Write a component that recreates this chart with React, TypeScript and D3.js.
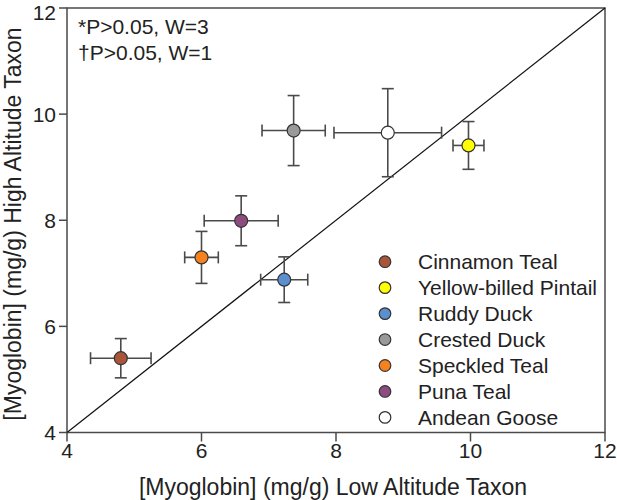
import React from 'react';
import * as d3 from 'd3';

// species, in legend order
const species = ['Cinnamon Teal', 'Yellow-billed Pintail', 'Ruddy Duck', 'Crested Duck', 'Speckled Teal', 'Puna Teal', 'Andean Goose'];
const colors = ['#a8553a', '#ffff00', '#5b8fd0', '#999999', '#f5821f', '#8c4c7f', '#ffffff'];

// low altitude taxon (x) and high altitude taxon (y), mg/g
const lowMean = [4.8, 9.97, 7.23, 7.37, 6.0, 6.59, 8.77];
const lowErr = [0.45, 0.23, 0.35, 0.47, 0.25, 0.55, 0.8];
const highMean = [5.4, 9.41, 6.88, 9.69, 7.3, 7.99, 9.65];
const highErr = [0.37, 0.45, 0.43, 0.66, 0.49, 0.47, 0.83];

const ticks = [4, 6, 8, 10, 12];
const notes = ['*P>0.05, W=3', '\u2020P>0.05, W=1'];

const W = 617;
const H = 500;
const axisColor = '#4a4a4a';
const font = '"Liberation Sans", Arial, sans-serif';

export default function App() {
  const x = d3.scaleLinear().domain([4, 12]).range([67, 605]);
  const y = d3.scaleLinear().domain([4, 12]).range([432.5, 8]);
  const cap = 6;

  return (
    <>
      <style>{`body { margin: 0; }`}</style>
      <svg width={W} height={H} style={{ display: 'block', fontFamily: font }}>
        <rect width={W} height={H} fill="#fff" />

        {/* frame */}
        <rect x={x(4)} y={y(12)} width={x(12) - x(4)} height={y(4) - y(12)} fill="none" stroke={axisColor} strokeWidth={1.5} />

        {/* 1:1 line */}
        <line x1={x(4)} y1={y(4)} x2={x(12)} y2={y(12)} stroke="#111" strokeWidth={1.2} />

        {/* y ticks */}
        {ticks.map(t => (
          <g key={'y' + t}>
            <line x1={x(4) - 8} x2={x(4)} y1={y(t)} y2={y(t)} stroke={axisColor} strokeWidth={1.5} />
            <text x={x(4) - 11} y={Math.max(y(t) + 7.5, 19.5)} textAnchor="end" fontSize={21} fill="#222">{t}</text>
          </g>
        ))}

        {/* x ticks */}
        {ticks.map(t => (
          <g key={'x' + t}>
            <line x1={x(t)} x2={x(t)} y1={y(4)} y2={y(4) + 9} stroke={axisColor} strokeWidth={1.5} />
            <text x={x(t)} y={458} textAnchor="middle" fontSize={21} fill="#222">{t}</text>
          </g>
        ))}

        {/* axis titles */}
        <text x={333} y={495} textAnchor="middle" fontSize={23} fill="#222">[Myoglobin] (mg/g) Low Altitude Taxon</text>
        <text transform={`translate(21,224) rotate(-90)`} textAnchor="middle" fontSize={23} fill="#222">[Myoglobin] (mg/g) High Altitude Taxon</text>

        {/* notes */}
        {notes.map((n, i) => (
          <text key={n} x={78} y={34 + i * 26} fontSize={21} fill="#222">{n}</text>
        ))}

        {/* error bars */}
        {species.map((s, i) => {
          const cx = x(lowMean[i]);
          const cy = y(highMean[i]);
          const x0 = x(lowMean[i] - lowErr[i]);
          const x1 = x(lowMean[i] + lowErr[i]);
          const y0 = y(highMean[i] - highErr[i]);
          const y1 = y(highMean[i] + highErr[i]);
          return (
            <g key={'e' + s} stroke={axisColor} strokeWidth={1.6} fill="none">
              <line x1={x0} x2={x1} y1={cy} y2={cy} />
              <line x1={cx} x2={cx} y1={y0} y2={y1} />
              <line x1={x0} x2={x0} y1={cy - cap} y2={cy + cap} />
              <line x1={x1} x2={x1} y1={cy - cap} y2={cy + cap} />
              <line x1={cx - cap} x2={cx + cap} y1={y0} y2={y0} />
              <line x1={cx - cap} x2={cx + cap} y1={y1} y2={y1} />
            </g>
          );
        })}

        {/* points */}
        {species.map((s, i) => (
          <circle key={'p' + s} cx={x(lowMean[i])} cy={y(highMean[i])} r={6.5} fill={colors[i]} stroke="#333" strokeWidth={1.2} />
        ))}

        {/* legend */}
        {species.map((s, i) => (
          <g key={'l' + s} transform={`translate(385,${261.7 + i * 25.95})`}>
            <circle r={5.8} fill={colors[i]} stroke="#333" strokeWidth={1.2} />
            <text x={33} y={7.2} fontSize={21} fill="#222">{s}</text>
          </g>
        ))}
      </svg>
    </>
  );
}
